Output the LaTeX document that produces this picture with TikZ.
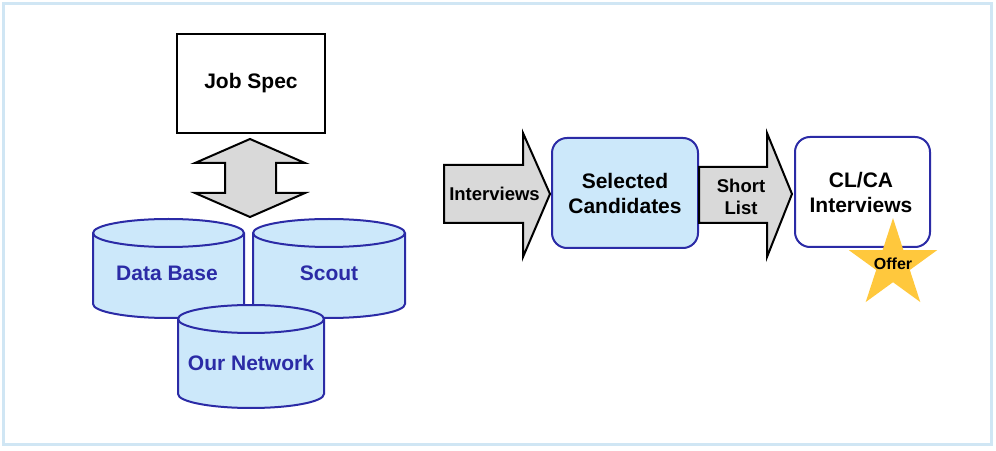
\documentclass[tikz,border=0pt]{standalone}
\usepackage{fontspec}
\setmainfont{Liberation Sans}
\definecolor{frameblue}{HTML}{D0E6F4}
\definecolor{cylfill}{HTML}{CCE8FA}
\definecolor{navy}{HTML}{2B2BA6}
\definecolor{arrgray}{HTML}{D9D9D9}
\definecolor{stargold}{HTML}{FFC83D}
\tikzset{
  bigtxt/.style={font=\fontsize{21}{25}\selectfont\bfseries, align=center, inner sep=0pt},
  arrtxt/.style={font=\fontsize{18.5}{22}\selectfont\bfseries, align=center, inner sep=0pt},
  cyltxt/.style={bigtxt, text=navy},
  cylbody/.style={fill=cylfill, draw=navy, line width=2pt},
  fatarrow/.style={fill=arrgray, draw=black, line width=2pt, line join=miter},
  procbox/.style={draw=navy, line width=2pt, rounded corners=15pt, minimum width=146pt, minimum height=110pt},
}
\begin{document}
\begin{tikzpicture}[x=1pt,y=1pt]
\useasboundingbox (0,0) rectangle (996,450);
\draw[frameblue, line width=3pt] (3.5,5.5) rectangle (991.5,446.5);

% Job Spec box
\node[draw=black, line width=2pt, fill=white, minimum width=148pt, minimum height=99pt, bigtxt] (job) at (251,366.5) {Job Spec};

% double arrow
\draw[fatarrow] (250,311) -- (305,287) -- (276,287) -- (276,257) -- (305,257) -- (250,233)
  -- (195,257) -- (225,257) -- (225,287) -- (195,287) -- cycle;

% cylinders
\draw[cylbody] (93,217) -- (93,146) arc (180:360:75.5 and 14) -- (244,217) arc (0:180:75.5 and 14) -- cycle;
\draw[navy, line width=2pt] (93,217) arc (180:360:75.5 and 14);
\node[cyltxt] (db) at (167,177) {Data Base};

\draw[cylbody] (253,217) -- (253,146) arc (180:360:76 and 14) -- (405,217) arc (0:180:76 and 14) -- cycle;
\draw[navy, line width=2pt] (253,217) arc (180:360:76 and 14);
\node[cyltxt] (scout) at (329,177) {Scout};

\draw[cylbody] (178,131) -- (178,56) arc (180:360:73 and 14) -- (324,131) arc (0:180:73 and 14) -- cycle;
\draw[navy, line width=2pt] (178,131) arc (180:360:73 and 14);
\node[cyltxt] (net) at (251,87) {Our Network};

% Interviews arrow
\draw[fatarrow] (444,285) -- (523,285) -- (523,317) -- (550,256) -- (523,193) -- (523,227) -- (444,227) -- cycle;
\node[arrtxt] (intv) at (494.5,256) {Interviews};

% Selected candidates
\node[procbox, fill=cylfill, bigtxt] (sel) at (625,257) {Selected\\Candidates};

% Short list arrow
\draw[fatarrow] (699,283) -- (767,283) -- (767,317) -- (792,256) -- (767,193) -- (767,227) -- (699,227) -- cycle;
\node[arrtxt] (short) at (741,253.5) {Short\\List};

% CL/CA box
\node[procbox, fill=white, minimum width=135pt, minimum height=110pt] (clca) at (862.5,258) {};
\node[bigtxt] (clcatxt) at (861,258) {CL/CA\\Interviews};

% star
\begin{scope}[shift={(893,185.5)}]
\fill[stargold] (90:46.4) -- (126:17.7) -- (162:46.4) -- (198:17.7) -- (234:46.4) -- (270:17.7)
  -- (306:46.4) -- (342:17.7) -- (18:46.4) -- (54:17.7) -- cycle;
\end{scope}
\node[font=\fontsize{16}{19}\selectfont\bfseries, inner sep=0pt] (offer) at (893,186) {Offer};
\end{tikzpicture}
\end{document}
